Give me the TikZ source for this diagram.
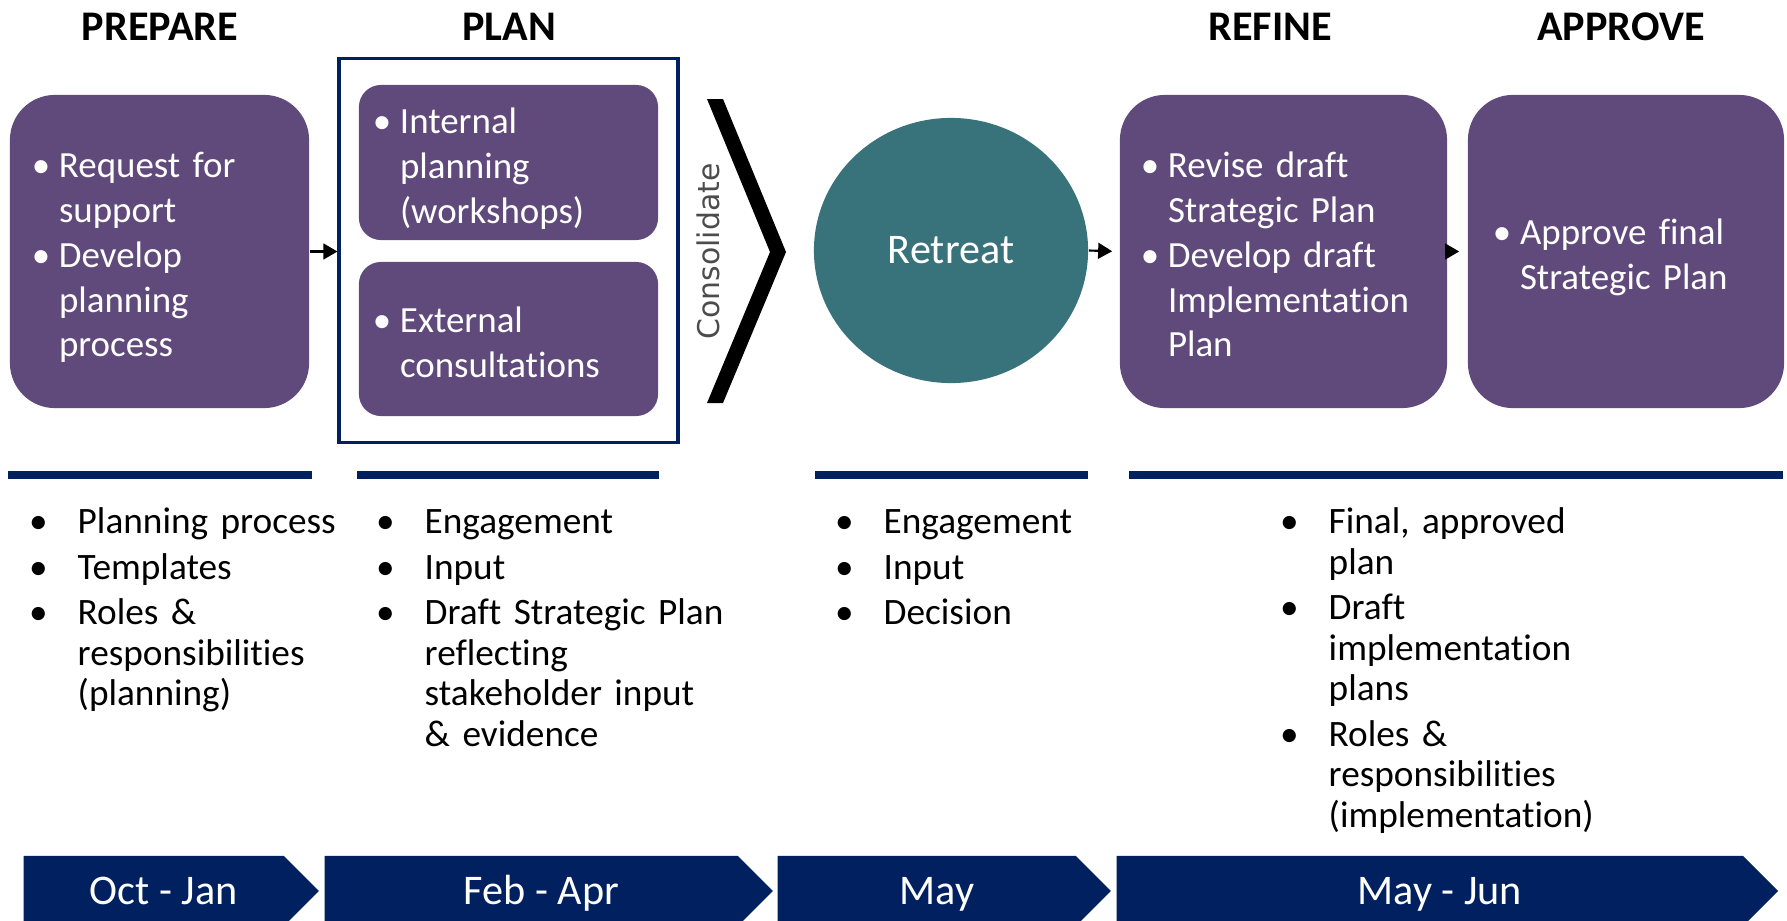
\documentclass[tikz,border=0pt]{standalone}
\usepackage{fontspec}
\setmainfont{Carlito}[Ligatures=NoCommon]
\newfontfamily\consfont{DejaVu Sans}
\usetikzlibrary{arrows.meta,shapes.geometric,shapes.symbols,fit}

\definecolor{boxpurple}{HTML}{604A7B}
\definecolor{retreatteal}{HTML}{38727A}
\definecolor{navy}{HTML}{002060}

% hanging bullet item, indent set by each style
\newlength{\bulhang}
\newcommand{\bul}[1]{\par\let\\\newline\hangindent=\bulhang\hangafter=1\noindent\hbox to\bulhang{\textbullet\hss}\strut#1\strut\par}

\tikzset{
  phase/.style={font=\fontsize{12}{14}\bfseries\selectfont},
  stepbox/.style={rounded corners=0.45cm, fill=boxpurple, text=white, inner sep=0pt,
    font=\fontsize{10.5}{12.75}\selectfont\setlength{\bulhang}{7.7pt}},
  listtext/.style={anchor=north west, inner sep=0pt, text width=3.6cm,
    font=\fontsize{10.6}{11.5}\selectfont\setlength{\bulhang}{13.8pt}\setlength{\parskip}{1.45pt}},
  month/.style={signal, signal to=east, signal pointer angle=90, fill=navy, text=white,
    anchor=west, minimum height=0.7cm, inner sep=0pt, font=\fontsize{12}{14}\selectfont,
    text height=7.7pt, text depth=0pt, execute at begin node=\hspace*{0.2cm}},
  rule/.style={navy, line width=2.3pt},
  link/.style={-{Triangle[length=4pt,width=4.5pt]}, line width=0.6pt}
}

\begin{document}
\begin{tikzpicture}[x=0.01cm, y=-0.01cm]
  \useasboundingbox (0,0) rectangle (1787,921);
  \clip (0,0) rectangle (1787,921);

  % phase headings
  \node[phase] (hprep) at (160,26.5) {PREPARE};
  \node[phase] (hplan) at (509,26.5) {PLAN};
  \node[phase] (hrefine) at (1270,26.5) {REFINE};
  \node[phase] (happrove) at (1621,26.5) {APPROVE};

  % process boxes
  \node[stepbox, minimum width=2.99cm, minimum height=3.13cm, text width=2.55cm] (prep) at (159.5,251.5)
    {\bul{Request for\\support}\bul{Develop\\planning\\process}};
  \node[stepbox, rounded corners=0.22cm, minimum width=2.99cm, minimum height=1.55cm, text width=2.71cm] (internal) at (508.5,162.5)
    {\bul{Internal\\planning\\(workshops)}};
  \node[stepbox, rounded corners=0.22cm, minimum width=2.99cm, minimum height=1.54cm, text width=2.71cm] (external) at (508.5,339)
    {\bul{External\\consultations}};
  \node[draw=navy, line width=1pt, inner xsep=0.19cm, inner ysep=0.255cm, fit=(internal)(external)] (planframe) {};

  % consolidate chevron
  \fill (707,99) -- (770,252) -- (707,403) -- (723,403) -- (786,252) -- (723,99) -- cycle;
  \node[rotate=90, text=black!70, font=\consfont\fontsize{8.5}{10}\selectfont] (cons) at (708,251.5) {Consolidate};

  \node[ellipse, fill=retreatteal, inner sep=0pt, minimum width=2.74cm, minimum height=2.65cm,
    text=white, font=\fontsize{12}{14}\selectfont] (retreat) at (951,250.5) {Retreat};

  \node[stepbox, minimum width=3.27cm, minimum height=3.13cm, text width=2.85cm] (refine) at (1283.5,251.5)
    {\bul{Revise draft\\Strategic Plan}\bul{Develop draft\\Implementation\\Plan}};
  \node[stepbox, minimum width=3.16cm, minimum height=3.13cm, text width=2.66cm] (approve) at (1626,251.5)
    {\bul{Approve final\\Strategic Plan}};

  \draw[link] (prep.east) -- (prep.east -| planframe.west);
  \draw[link, shorten >=0.7mm] (retreat.east) -- (refine.west);
  \draw[link, shorten >=0.8mm] (refine.east) -- (approve.west);

  % rules over the outputs
  \draw[rule] (8,475) -- (312,475);
  \draw[rule] (357,475) -- (659,475);
  \draw[rule] (815,475) -- (1088,475);
  \draw[rule] (1129,475) -- (1783,475);

  % outputs
  \node[listtext] (outprep) at (28.5,487.5)
    {\bul{Planning process}\bul{Templates}\bul{Roles \&\\responsibilities\\(planning)}};
  \node[listtext] (outplan) at (375.5,487.5)
    {\bul{Engagement}\bul{Input}\bul{Draft Strategic Plan\\reflecting\\stakeholder input\\\& evidence}};
  \node[listtext] (outretreat) at (834.5,487.5)
    {\bul{Engagement}\bul{Input}\bul{Decision}};
  \node[listtext] (outrefine) at (1279.5,487.5)
    {\bul{Final, approved\\plan}\bul{Draft\\implementation\\plans}\bul{Roles \&\\responsibilities\\(implementation)}};

  % timeline
  \node[month, minimum width=2.95cm] (oct) at (23,891) {Oct - Jan};
  \node[month, minimum width=4.48cm] (feb) at (324,891) {Feb - Apr};
  \node[month, minimum width=3.33cm] (may) at (777,891) {May};
  \node[month, minimum width=6.61cm] (jun) at (1116,891) {May - Jun};
\end{tikzpicture}
\end{document}
